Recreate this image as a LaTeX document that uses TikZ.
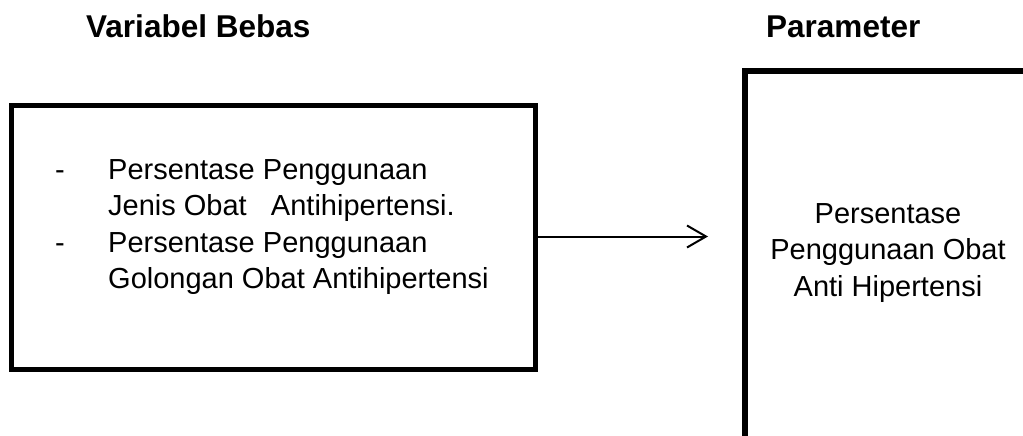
\documentclass[tikz,border=0pt]{standalone}
\usepackage{tikz}
\usetikzlibrary{arrows.meta}
\usepackage{fontspec}
\setmainfont{Liberation Sans}
\tikzstyle{TitleText}=[inner sep=0pt,anchor=base west,font=\bfseries\fontsize{31.5pt}{36pt}\selectfont]
\tikzstyle{BodyText}=[inner sep=0pt,font=\fontsize{29pt}{36.5pt}\selectfont]
\tikzstyle{BoxVar}=[draw,line width=5pt,inner sep=0pt]
\tikzstyle{EdgeArrow}=[line width=2pt,-{Straight Barb[length=19pt,width=22pt,line width=2pt]}]

\begin{document}
\begin{tikzpicture}[x=1pt,y=-1pt]
        \useasboundingbox (0,0) rectangle (1023,436);
        \node[TitleText](judulA)at(86,38){Variabel Bebas};
        \node[TitleText](judulB)at(766,38){Parameter};
        \node[BoxVar,minimum width=524pt,minimum height=264pt](bebas)at(273.5,237.5){};
        \node[BodyText,align=left,anchor=north west](isi)at(55,159){%
          \makebox[53pt][l]{-}Persentase Penggunaan\\
          \hspace*{53pt}Jenis Obat\ \ \ Antihipertensi.\\
          \makebox[53pt][l]{-}Persentase Penggunaan\\
          \hspace*{53pt}Golongan Obat Antihipertensi};
        \draw[line width=6pt](1040,71)--(744.5,71)--(744.5,450);
        \node[BodyText,align=center,anchor=north](param)at(888,203){%
          Persentase\\Penggunaan Obat\\Anti Hipertensi};
        \coordinate(ujung)at(708,236.5);
        \draw[EdgeArrow](bebas.east|-ujung)--(ujung);
    \end{tikzpicture}
\end{document}
